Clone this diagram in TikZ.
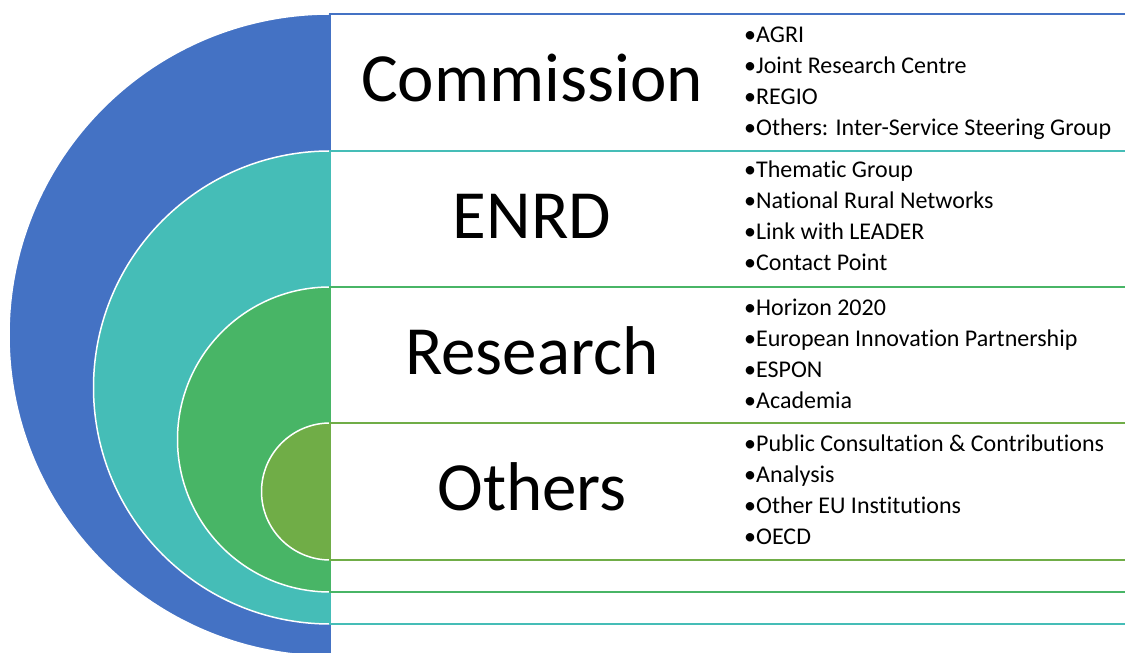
\documentclass[tikz,border=0pt]{standalone}
\usepackage{fontspec}
\setmainfont{Carlito}[Ligatures=NoCommon]
\usetikzlibrary{positioning}
\definecolor{cblue}{HTML}{4472C4}
\definecolor{cteal}{HTML}{45BDB7}
\definecolor{cgreen}{HTML}{48B566}
\definecolor{colive}{HTML}{70AD47}
\tikzset{
  band/.style={draw=#1, line width=2pt, fill=white},
  disc/.style={fill=#1, draw=white, line width=1.5pt},
  title/.style={anchor=base, font=\fontsize{69}{80}\selectfont},
  item/.style={anchor=base west, inner sep=0pt, font=\fontsize{24}{28}\selectfont}
}
\begin{document}
\begin{tikzpicture}[x=1pt,y=1pt]
        \useasboundingbox (0,0) rectangle (1125,653);
        \clip (0,0) rectangle (1125,653);
        % Bands and half discs, outside in
        \filldraw[disc=cblue] (330,639) arc[start angle=90,end angle=270,radius=321];
        \draw[band=cblue] (330,639) rectangle (1140,-3);
        \filldraw[disc=cteal] (330,502) arc[start angle=90,end angle=270,radius=236.5];
        \draw[band=cteal] (330,502) rectangle (1140,29);
        \filldraw[disc=cgreen] (330,366) arc[start angle=90,end angle=270,radius=152.5];
        \draw[band=cgreen] (330,366) rectangle (1140,61);
        \filldraw[disc=colive] (330,230) arc[start angle=90,end angle=270,radius=68.5];
        \draw[band=colive] (330,230) rectangle (1140,93);
        % Titles
        \node[title] (comm) at (532,551) {Commission};
        \node[title] (enrd) at (532,414) {ENRD};
        \node[title] (res) at (532,278) {Research};
        \node[title] (oth) at (532,142) {Others};
        % Commission items
        \node[item] (c1) at (744,610) {•AGRI};
        \node[item] (c2) at (744,579.3) {•Joint Research Centre};
        \node[item] (c3) at (744,548.6) {•REGIO};
        \node[item] (c4) at (744,517.9) {•Others: Inter-Service Steering Group};
        % ENRD items
        \node[item] (e1) at (744,475) {•Thematic Group};
        \node[item] (e2) at (744,444.3) {•National Rural Networks};
        \node[item] (e3) at (744,413.6) {•Link with LEADER};
        \node[item] (e4) at (744,382.9) {•Contact Point};
        % Research items
        \node[item] (r1) at (744,337) {•Horizon 2020};
        \node[item] (r2) at (744,306.3) {•European Innovation Partnership};
        \node[item] (r3) at (744,275.6) {•ESPON};
        \node[item] (r4) at (744,244.9) {•Academia};
        % Other items
        \node[item] (o1) at (744,201) {•Public Consultation \& Contributions};
        \node[item] (o2) at (744,170.3) {•Analysis};
        \node[item] (o3) at (744,139.6) {•Other EU Institutions};
        \node[item] (o4) at (744,108.9) {•OECD};
    \end{tikzpicture}
\end{document}
